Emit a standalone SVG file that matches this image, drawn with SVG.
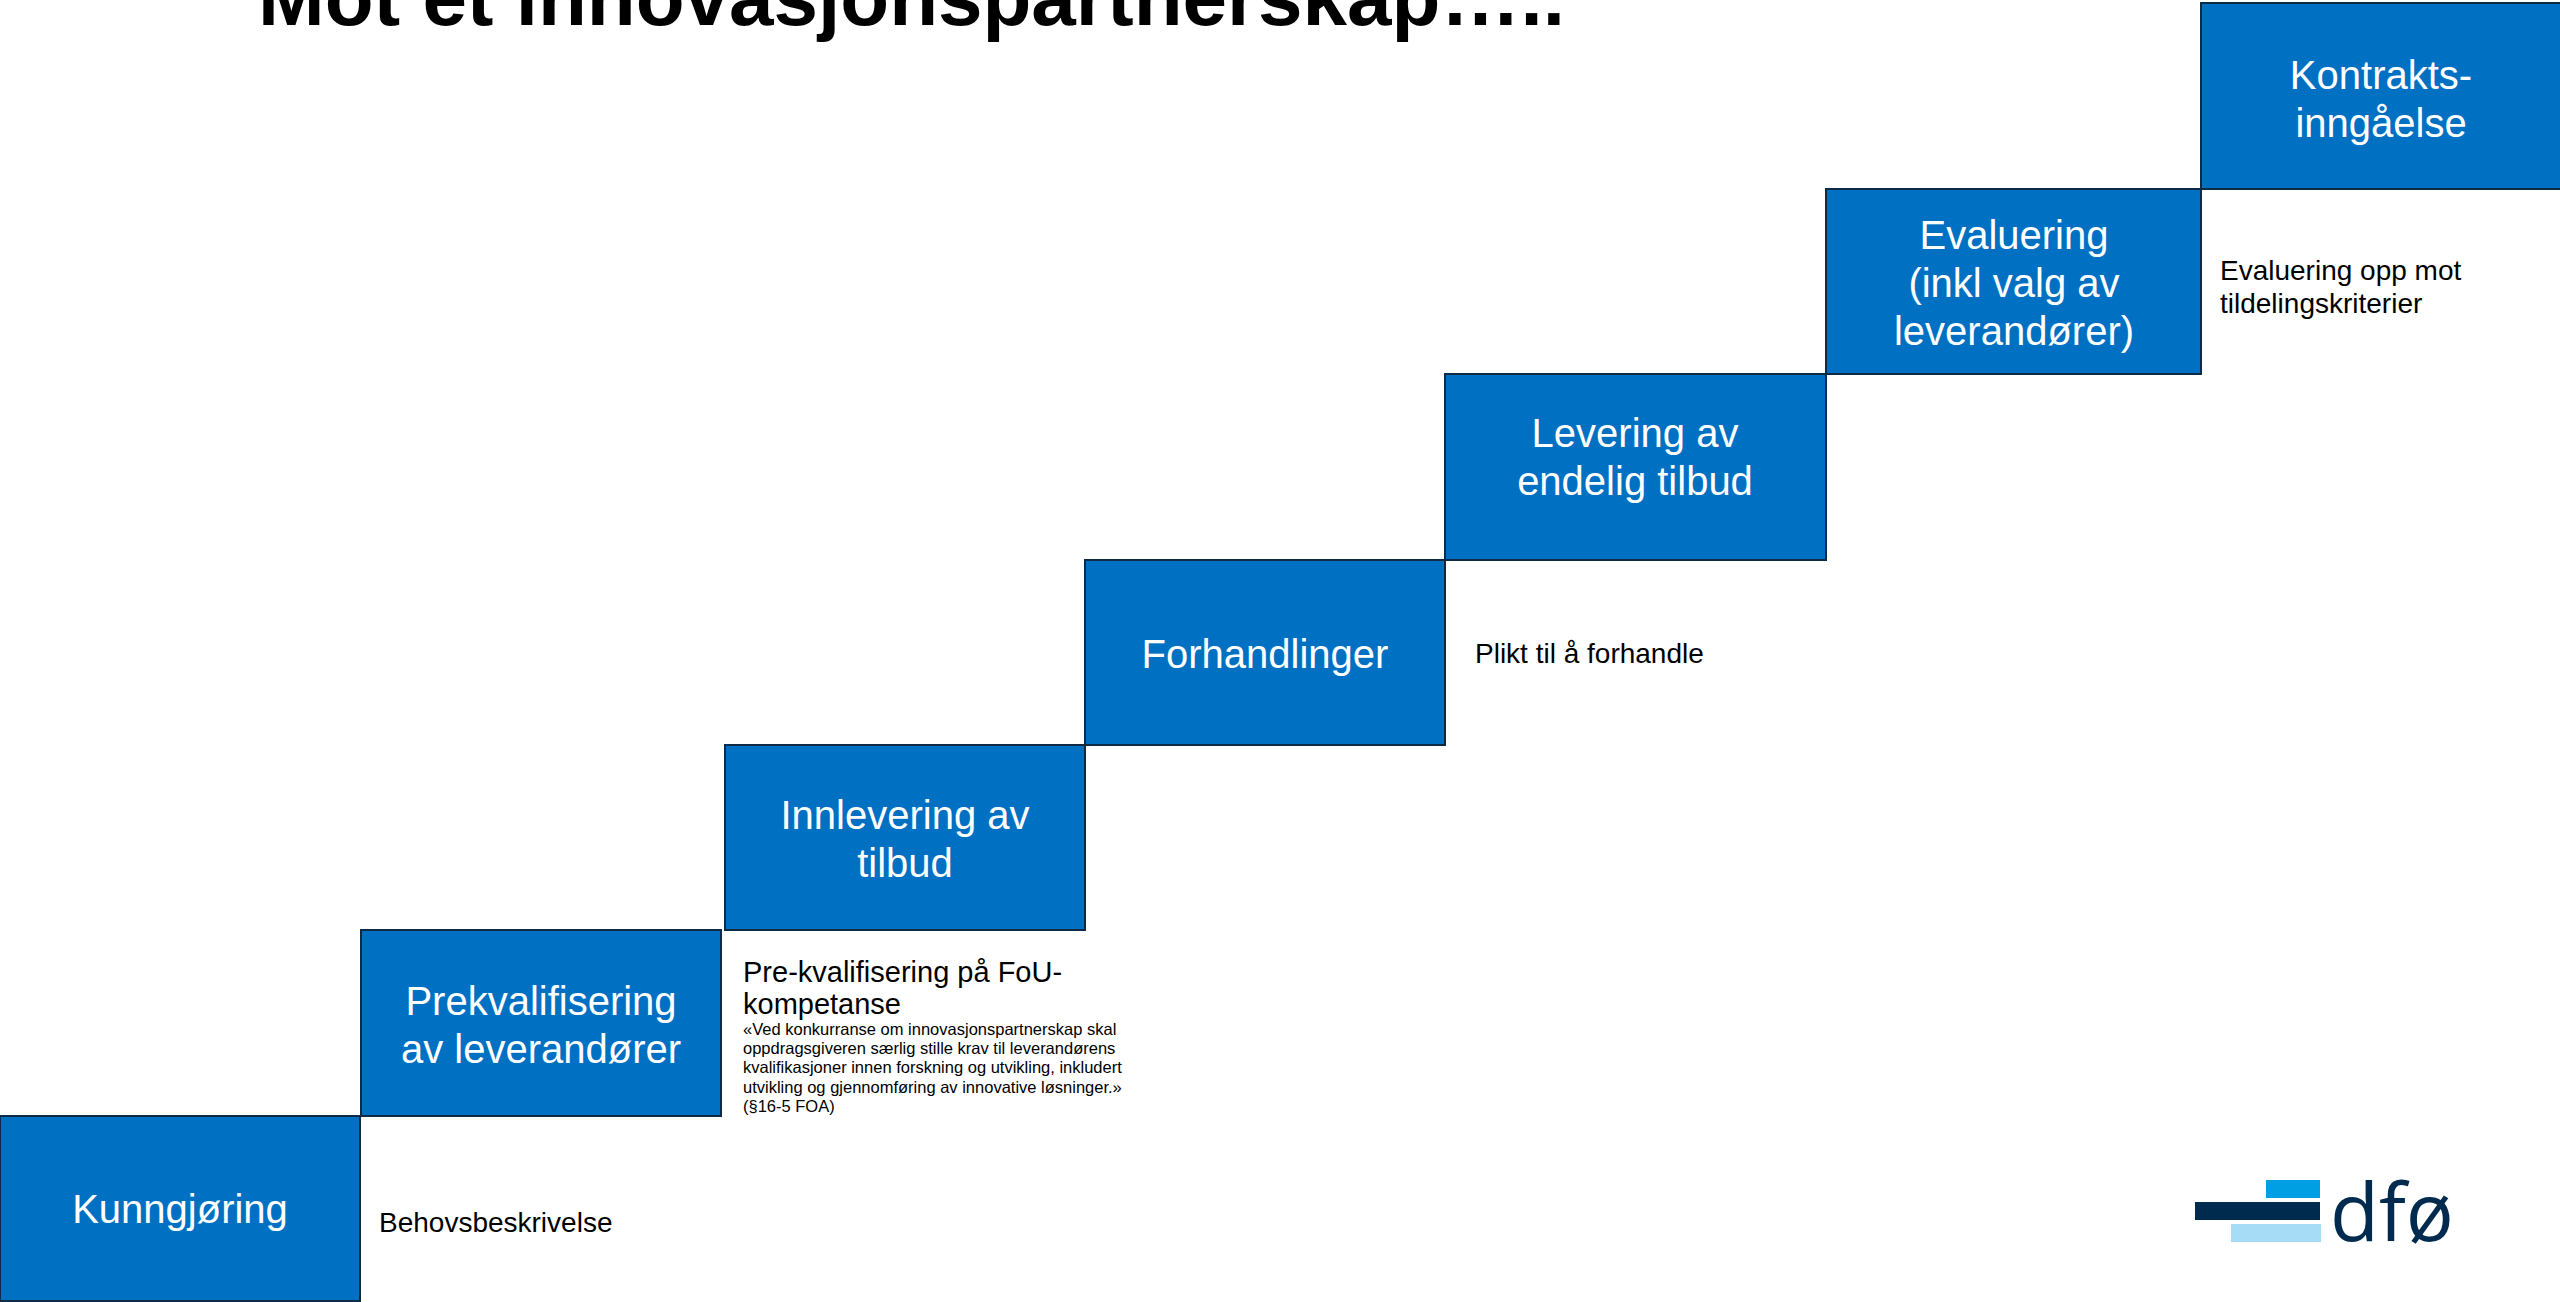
<svg xmlns="http://www.w3.org/2000/svg" width="2560" height="1302" viewBox="0 0 2560 1302">
<style>
text{font-family:"Liberation Sans",Arial,sans-serif}
.b{fill:#0070c3;stroke:#0f2a44;stroke-width:2}
.t{fill:#fff;font-size:40px;text-anchor:middle}
.n{fill:#000;font-size:28px}
.s{fill:#000;font-size:16.5px}
</style>
<rect width="2560" height="1302" fill="#fff"/>
<text id="title" x="258" y="25" font-size="80" font-weight="bold" fill="#000">Mot et innovasjonspartnerskap…..</text>
<g id="connectors"/>
<g id="kunngjoring"><rect class="b" x="0" y="1116" width="360" height="185"/><text class="t" x="180" y="1223">Kunngjøring</text></g>
<g id="prekvalifisering"><rect class="b" x="361" y="930" width="360" height="186"/><text class="t" x="541" y="1015">Prekvalifisering</text><text class="t" x="541" y="1063">av leverandører</text></g>
<g id="innlevering"><rect class="b" x="725" y="745" width="360" height="185"/><text class="t" x="905" y="829">Innlevering av</text><text class="t" x="905" y="877">tilbud</text></g>
<g id="forhandlinger"><rect class="b" x="1085" y="560" width="360" height="185"/><text class="t" x="1265" y="668">Forhandlinger</text></g>
<g id="levering"><rect class="b" x="1445" y="374" width="381" height="186"/><text class="t" x="1635" y="447">Levering av</text><text class="t" x="1635" y="495">endelig tilbud</text></g>
<g id="evaluering"><rect class="b" x="1826" y="189" width="375" height="185"/><text class="t" x="2014" y="249">Evaluering</text><text class="t" x="2014" y="297">(inkl valg av</text><text class="t" x="2014" y="345">leverandører)</text></g>
<g id="kontrakt"><rect class="b" x="2201" y="3" width="360" height="186"/><text class="t" x="2381" y="89">Kontrakts-</text><text class="t" x="2381" y="137">inngåelse</text></g>
<g id="notes">
<text class="n" x="379" y="1232">Behovsbeskrivelse</text>
<text x="743" y="982" fill="#000" font-size="29">Pre-kvalifisering på FoU-</text>
<text x="743" y="1014" fill="#000" font-size="29">kompetanse</text>
<text class="s" x="743" y="1035">«Ved konkurranse om innovasjonspartnerskap skal</text>
<text class="s" x="743" y="1054">oppdragsgiveren særlig stille krav til leverandørens</text>
<text class="s" x="743" y="1073">kvalifikasjoner innen forskning og utvikling, inkludert</text>
<text class="s" x="743" y="1093">utvikling og gjennomføring av innovative løsninger.»</text>
<text class="s" x="743" y="1112">(§16-5 FOA)</text>
<text class="n" x="1475" y="663">Plikt til å forhandle</text>
<text class="n" x="2220" y="280">Evaluering opp mot</text>
<text class="n" x="2220" y="313">tildelingskriterier</text>
</g>
<g id="logo">
<rect x="2266" y="1180" width="54" height="18" fill="#009fe3"/>
<rect x="2195" y="1202" width="125" height="18" fill="#002b4f"/>
<rect x="2231" y="1224" width="90" height="18" fill="#a6dcf5"/>
<text x="2330" y="1241" font-size="80" fill="#002b4f" style="font-family:'Open Sans',sans-serif">dfø</text>
</g>
</svg>
